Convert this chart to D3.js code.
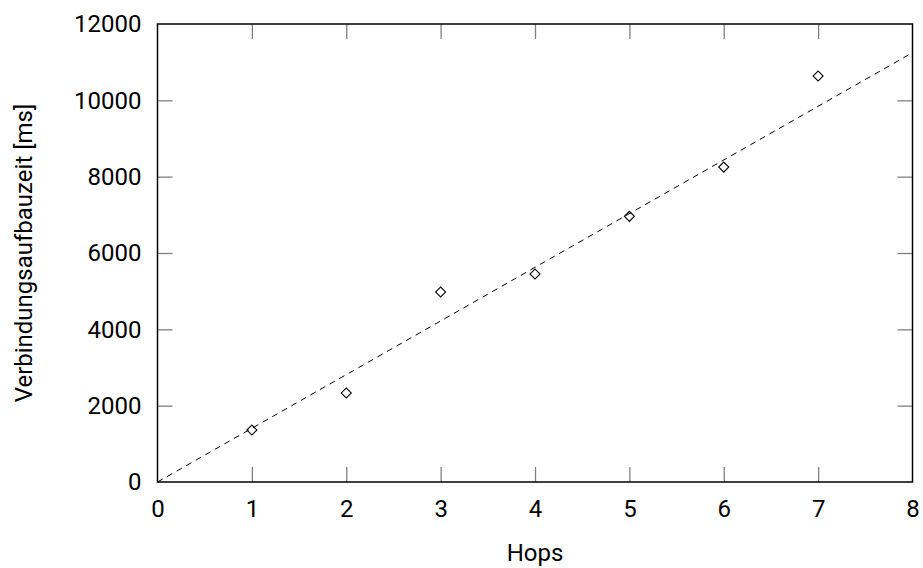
<!DOCTYPE html>
<html>
<head>
<meta charset="utf-8">
<style>
    body { margin: 0; background: #fff; }
    svg text { font-family: Roboto, 'DejaVu Sans', sans-serif; font-weight: 400; }
    .tick text { font-size: 24px; fill: #000; }
    .tick line { stroke: #808080; stroke-width: 1.3; }
    .domain { display: none; }
    .axis-label { font-size: 24px; fill: #000; }
</style>
</head>
<body>
<svg width="923" height="568"></svg>
<script src="https://d3js.org/d3.v7.min.js"></script>
<script>
    // measured values
    let hops = [1, 2, 3, 4, 5, 6, 7];
    let setupTime = [1360, 2330, 4980, 5450, 6960, 8250, 10640];

    // fitted line endpoints (hops, ms)
    let fitX = [0, 8];
    let fitY = [0, 11250];

    let xTicks = [0, 1, 2, 3, 4, 5, 6, 7, 8];
    let yTicks = [0, 2000, 4000, 6000, 8000, 10000, 12000];

    let margin = { top: 24, right: 10.5, bottom: 86, left: 157.5 };
    let width = 923, height = 568;

    let svg = d3.select("svg");

    let x = d3.scaleLinear()
        .domain([0, 8])
        .range([margin.left, width - margin.right]);

    let y = d3.scaleLinear()
        .domain([0, 12000])
        .range([height - margin.bottom, margin.top]);

    let tick = 15;

    // bottom axis with labels
    svg.append("g")
        .attr("class", "x axis")
        .attr("transform", `translate(0, ${y(0)})`)
        .call(d3.axisBottom(x).tickValues(xTicks).tickSize(-tick).tickPadding(tick + 3).tickFormat(d3.format("d")))
        .call(g => g.attr("font-family", null).attr("font-size", null))
        .call(g => g.selectAll(".tick").filter(d => d == 0 || d == 8).select("line").remove());

    // top mirror ticks
    svg.append("g")
        .attr("class", "x axis")
        .attr("transform", `translate(0, ${y(12000)})`)
        .call(d3.axisTop(x).tickValues(xTicks).tickSize(-tick).tickFormat(""))
        .call(g => g.selectAll(".tick").filter(d => d == 0 || d == 8).select("line").remove());

    // left axis with labels
    svg.append("g")
        .attr("class", "y axis")
        .attr("transform", `translate(${x(0)}, 0)`)
        .call(d3.axisLeft(y).tickValues(yTicks).tickSize(-tick).tickPadding(tick + 1).tickFormat(d3.format("d")))
        .call(g => g.attr("font-family", null).attr("font-size", null))
        .call(g => g.selectAll(".tick").filter(d => d == 0 || d == 12000).select("line").remove());

    // right mirror ticks
    svg.append("g")
        .attr("class", "y axis")
        .attr("transform", `translate(${x(8)}, 0)`)
        .call(d3.axisRight(y).tickValues(yTicks).tickSize(-tick).tickFormat(""))
        .call(g => g.selectAll(".tick").filter(d => d == 0 || d == 12000).select("line").remove());

    // frame
    svg.append("rect")
        .attr("x", x(0))
        .attr("y", y(12000))
        .attr("width", x(8) - x(0))
        .attr("height", y(0) - y(12000))
        .attr("fill", "none")
        .attr("stroke", "#000")
        .attr("stroke-width", 1.5);

    // fit line
    let line = d3.line()
        .x(d => x(d[0]))
        .y(d => y(d[1]));

    svg.append("path")
        .datum(d3.zip(fitX, fitY))
        .attr("d", line)
        .attr("fill", "none")
        .attr("stroke", "#000")
        .attr("stroke-width", 1)
        .attr("stroke-dasharray", "6,5");

    // diamond markers
    let diamond = d3.symbol().type(d3.symbolSquare).size(50);

    svg.append("g")
        .selectAll("path")
        .data(d3.zip(hops, setupTime))
        .join("path")
        .attr("d", diamond)
        .attr("transform", d => `translate(${x(d[0])}, ${y(d[1])}) rotate(45)`)
        .attr("fill", "none")
        .attr("stroke", "#000")
        .attr("stroke-width", 1.1);

    svg.append("text")
        .attr("class", "axis-label")
        .attr("x", (x(0) + x(8)) / 2)
        .attr("y", 561)
        .attr("text-anchor", "middle")
        .text("Hops");

    svg.append("text")
        .attr("class", "axis-label")
        .attr("transform", `translate(32, ${(y(0) + y(12000)) / 2}) rotate(-90)`)
        .attr("text-anchor", "middle")
        .text("Verbindungsaufbauzeit [ms]");
</script>
</body>
</html>
